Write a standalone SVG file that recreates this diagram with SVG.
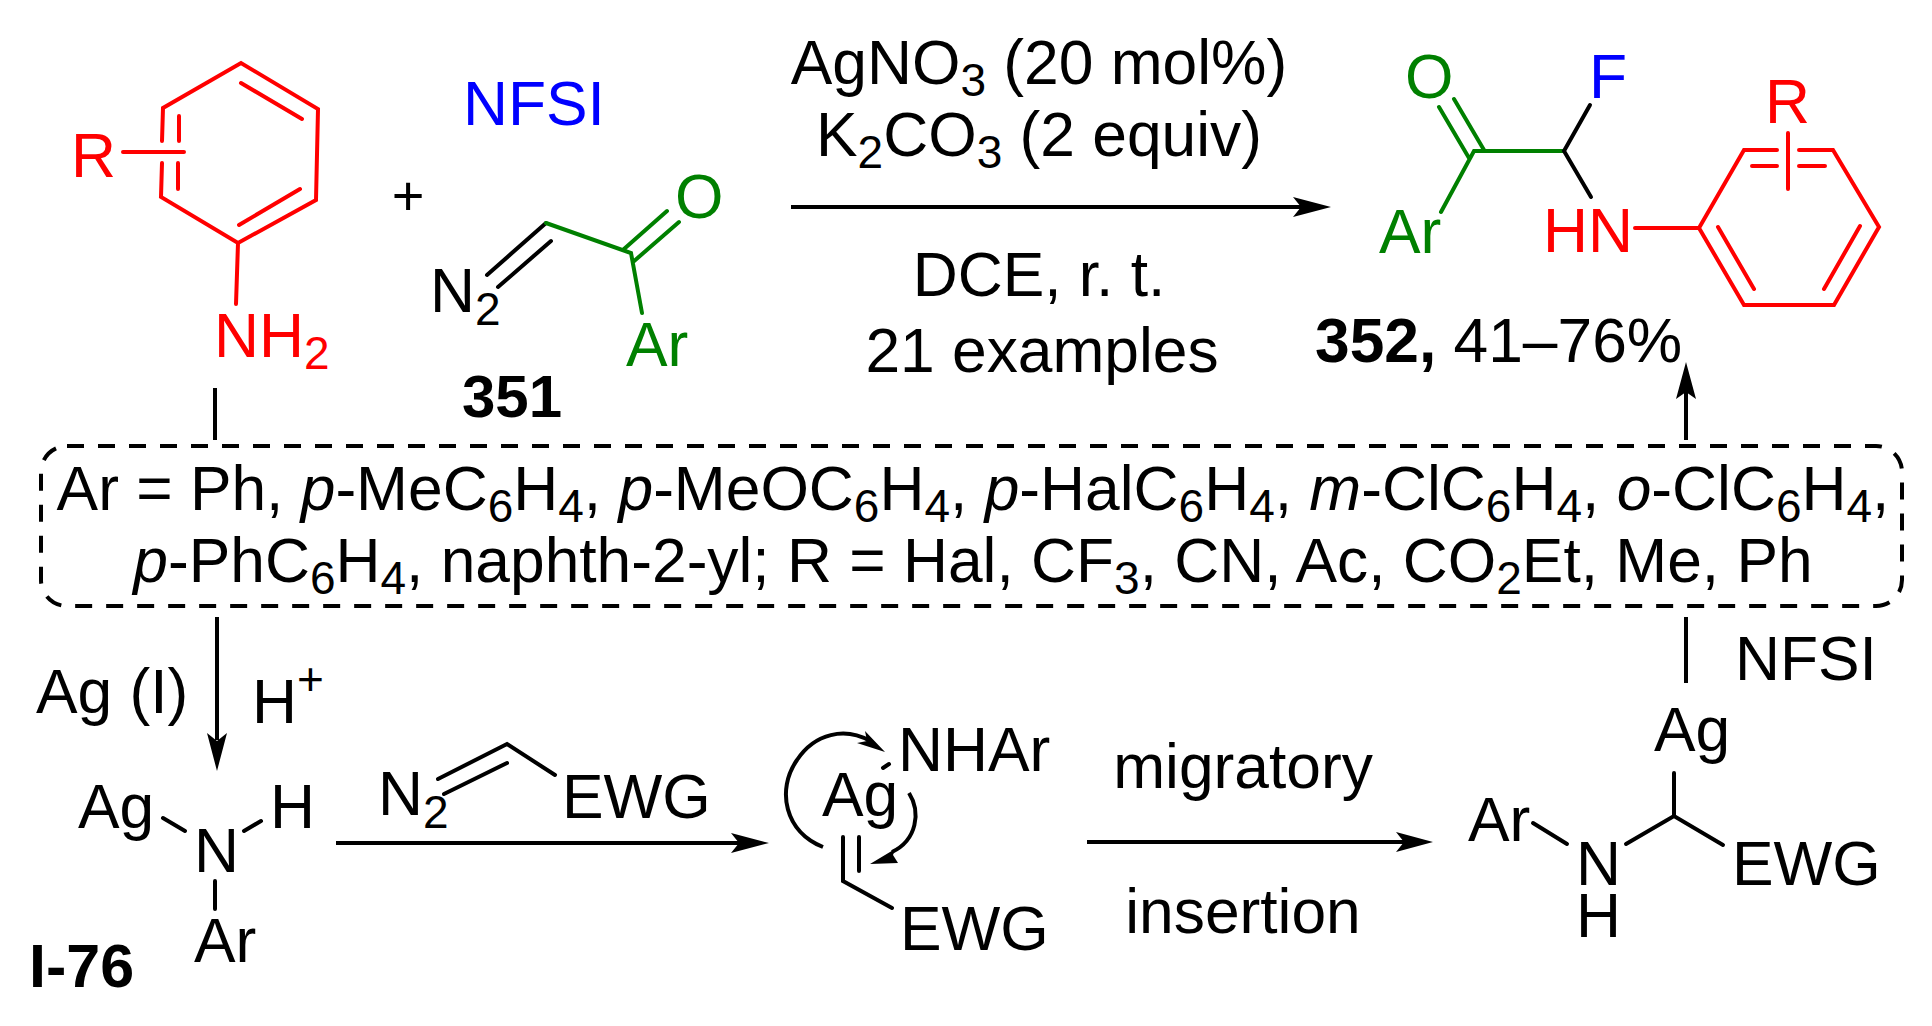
<svg xmlns="http://www.w3.org/2000/svg" width="1932" height="1026" viewBox="0 0 1932 1026">
<style>
text{font-family:"Liberation Sans",Arial,sans-serif;font-size:62.3px;fill:#000}
.sub{font-size:46px}
.b{font-weight:bold}
.i{font-style:italic}
.r{fill:#f00}.g{fill:#008000}.bl{fill:#00f}
.m{text-anchor:middle}
path,line{fill:none;stroke:#000;stroke-width:4;stroke-linecap:round;stroke-linejoin:miter}
.sr{stroke:#f00}.sg{stroke:#008000}
.hd{fill:#000;stroke:none}
</style>
<rect width="1932" height="1026" fill="#fff"/>
<g id="aniline">
<path class="sr" d="M162 141L163 108L241 63L318 109L316 200L238 243L161 197L162 163M241 83L302 119M300 189L239 225M179 116V141M178 163V189M123 152H184M238 243L236 304"/>
<text class="r" x="71" y="177">R</text>
<text class="r" x="214" y="357">NH<tspan class="sub" dy="12">2</tspan></text>
</g>
<g id="plus"><text class="m" style="font-size:56px" x="408" y="215">+</text></g>
<g id="nfsi-top"><text class="bl" x="463" y="125">NFSI</text></g>
<g id="diazo-351">
<path d="M546 223L487 275M551 241L498 287"/>
<path class="sg" d="M546 223L631 253L642 313M624 249L667 211M633 262L679 222"/>
<text x="430" y="312">N<tspan class="sub" dy="13">2</tspan></text>
<text class="g" x="675" y="218">O</text>
<text class="g" x="626" y="366">Ar</text>
<text class="b" style="font-size:60px" x="462" y="417">351</text>
</g>
<g id="conditions">
<text class="m" x="1039" y="84">AgNO<tspan class="sub" dy="12">3</tspan><tspan dy="-12"> (20 mol%)</tspan></text>
<text class="m" x="1039" y="156">K<tspan class="sub" dy="12">2</tspan><tspan dy="-12">CO</tspan><tspan class="sub" dy="12">3</tspan><tspan dy="-12"> (2 equiv)</tspan></text>
<text class="m" x="1039" y="296">DCE, r. t.</text>
<text class="m" x="1042" y="372">21 examples</text>
</g>
<g id="product-352">
<path class="sg" d="M1439 107L1469 158M1454 99L1484 150M1441 212L1474 151H1564"/>
<path d="M1590 105L1564 151L1591 197"/>
<path class="sr" d="M1635 228H1699L1744 150H1777M1799 150H1833L1879 227L1834 305H1744L1699 228M1718 227L1754 289M1860 226L1824 289M1752 166H1777M1799 166H1825M1788 133V189"/>
<text class="g" x="1405" y="98">O</text>
<text class="bl" x="1589" y="98">F</text>
<text class="r" x="1765" y="123">R</text>
<text class="g" x="1379" y="253">Ar</text>
<text class="r" x="1543" y="252">HN</text>
<text x="1315" y="362"><tspan class="b">352,</tspan> 41–76%</text>
</g>
<g id="scope">
<rect x="41" y="446" width="1861" height="160" rx="26" ry="26" style="fill:none;stroke:#000;stroke-width:4;stroke-dasharray:17 14"/>
<text class="m" x="973" y="510">Ar = Ph, <tspan class="i">p</tspan>-MeC<tspan class="sub" dy="12">6</tspan><tspan dy="-12">H</tspan><tspan class="sub" dy="12">4</tspan><tspan dy="-12">, </tspan><tspan class="i">p</tspan>-MeOC<tspan class="sub" dy="12">6</tspan><tspan dy="-12">H</tspan><tspan class="sub" dy="12">4</tspan><tspan dy="-12">, </tspan><tspan class="i">p</tspan>-HalC<tspan class="sub" dy="12">6</tspan><tspan dy="-12">H</tspan><tspan class="sub" dy="12">4</tspan><tspan dy="-12">, </tspan><tspan class="i">m</tspan>-ClC<tspan class="sub" dy="12">6</tspan><tspan dy="-12">H</tspan><tspan class="sub" dy="12">4</tspan><tspan dy="-12">, </tspan><tspan class="i">o</tspan>-ClC<tspan class="sub" dy="12">6</tspan><tspan dy="-12">H</tspan><tspan class="sub" dy="12">4</tspan><tspan dy="-12">,</tspan></text>
<text class="m" x="973" y="582"><tspan class="i">p</tspan>-PhC<tspan class="sub" dy="12">6</tspan><tspan dy="-12">H</tspan><tspan class="sub" dy="12">4</tspan><tspan dy="-12">, naphth-2-yl; R = Hal, CF</tspan><tspan class="sub" dy="12">3</tspan><tspan dy="-12">, CN, Ac, CO</tspan><tspan class="sub" dy="12">2</tspan><tspan dy="-12">Et, Me, Ph</tspan></text>
</g>
<g id="reagents-left">
<text x="36" y="713">Ag (I)</text>
<text x="252" y="723">H<tspan class="sub" dy="-28">+</tspan></text>
</g>
<g id="I-76">
<path d="M163 818L185 831M244 831L261 821M215 881V909"/>
<text x="78" y="828">Ag</text>
<text x="270" y="828">H</text>
<text x="194" y="872">N</text>
<text x="194" y="962">Ar</text>
<text class="b" style="font-size:61px" x="29" y="987">I-76</text>
</g>
<g id="diazo-ewg">
<path d="M438 779L507 744L555 775M444 794L507 763"/>
<text x="378" y="815">N<tspan class="sub" dy="13">2</tspan></text>
<text x="562" y="818">EWG</text>
</g>
<g id="ag-complex">
<path d="M883 768L889 764M843 837V881L892 908M859 837V871"/>
<text x="822" y="816">Ag</text>
<text x="898" y="771">NHAr</text>
<text x="900" y="950">EWG</text>
</g>
<g id="labels-migratory">
<text class="m" x="1243" y="788">migratory</text>
<text class="m" x="1243" y="933">insertion</text>
</g>
<g id="ag-alkyl">
<path d="M1533 823L1567 844M1626 844L1674 816L1723 845M1674 773V816"/>
<text x="1654" y="751">Ag</text>
<text x="1468" y="841">Ar</text>
<text x="1576" y="885">N</text>
<text x="1576" y="937">H</text>
<text x="1732" y="885">EWG</text>
</g>
<g id="nfsi-right"><text x="1735" y="680">NFSI</text></g>
<g id="connectors">
<line x1="215" y1="388" x2="215" y2="440" style="stroke-linecap:butt"/>
<line x1="217" y1="617" x2="217" y2="740" style="stroke-linecap:butt"/>
<path class="hd" d="M217 771L207 733L217 741L227 733Z"/>
<line x1="791" y1="207" x2="1305" y2="207" style="stroke-linecap:butt"/>
<path class="hd" d="M1331 207L1293 197L1301 207L1293 217Z"/>
<line x1="1686" y1="440" x2="1686" y2="390" style="stroke-linecap:butt"/>
<path class="hd" d="M1686 362L1676 399L1686 392L1696 399Z"/>
<line x1="1686" y1="617" x2="1686" y2="683" style="stroke-linecap:butt"/>
<line x1="336" y1="843" x2="745" y2="843" style="stroke-linecap:butt"/>
<path class="hd" d="M769 843L731 833L739 843L731 853Z"/>
<line x1="1087" y1="842" x2="1405" y2="842" style="stroke-linecap:butt"/>
<path class="hd" d="M1433 842L1396 832L1404 842L1396 852Z"/>
<path d="M823 847C785 832 776 790 797 760C815 733 845 727 870 741" style="stroke-linecap:butt"/>
<path class="hd" d="M885 752L865 731L867 741L857 743Z"/>
<path d="M909 793C921 812 917 840 892 852" style="stroke-linecap:butt"/>
<path class="hd" d="M870 864L895 849L893 855L898 863Z"/>
</g>
</svg>
